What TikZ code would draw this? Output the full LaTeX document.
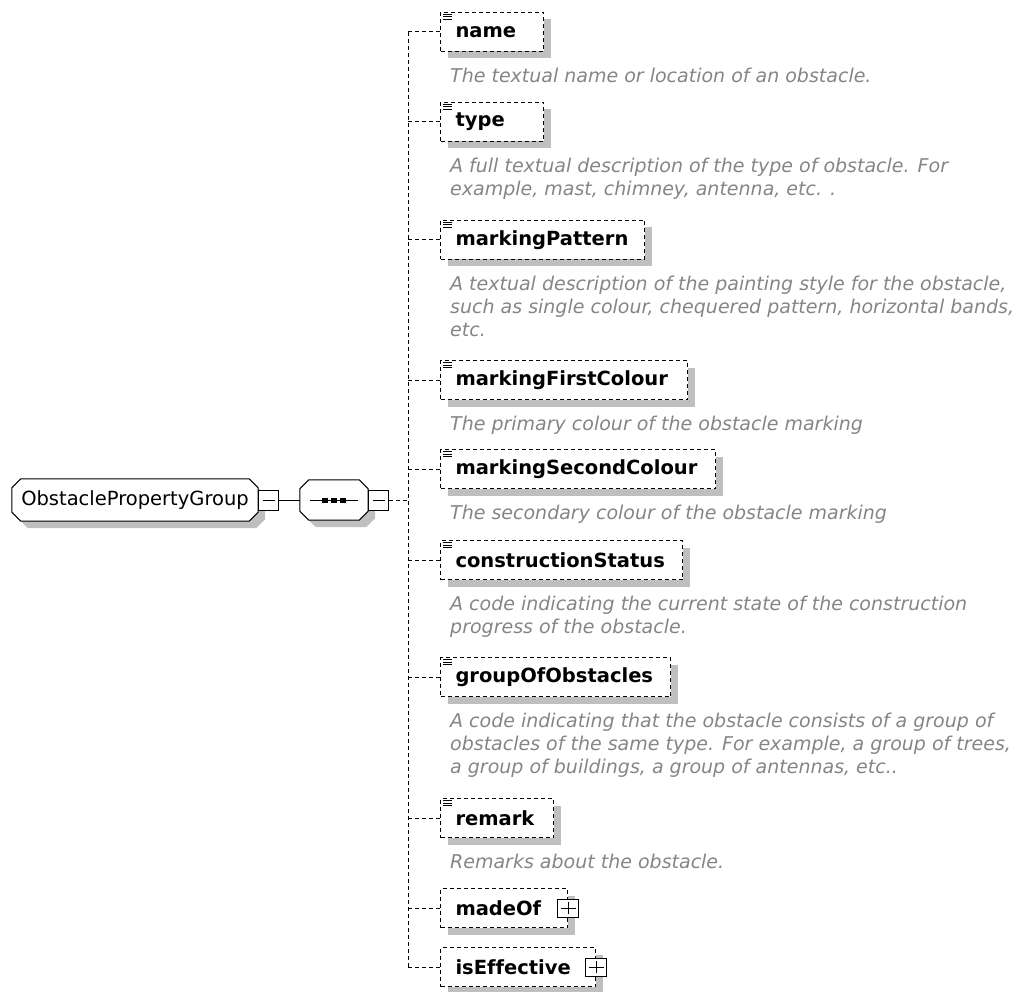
\documentclass[tikz,border=0pt]{standalone}
\usepackage{fontspec}
\setmainfont{DejaVu Sans}[Ligatures=NoCommon]
\usetikzlibrary{shadows}
\usetikzlibrary{backgrounds}
\definecolor{shadowgray}{rgb}{0.75, 0.75, 0.75}
\definecolor{docgray}{rgb}{0.52, 0.52, 0.52}

\tikzset{
	conn/.style={line width=1pt, dash pattern=on 4pt off 3pt},
	boxshadow/.style={drop shadow={shadow xshift=7pt, shadow yshift=-7pt, opacity=1, fill=shadowgray}},
	elem/.style={draw, line width=1pt, dash pattern=on 4pt off 3pt, fill=white, anchor=west,
		minimum height=39pt, inner xsep=15pt, inner ysep=0pt, align=left,
		font=\bfseries\fontsize{19.5}{22}\selectfont, boxshadow},
	doc/.style={anchor=north west, inner sep=0pt, align=left, text=docgray,
		font=\itshape\fontsize{19}{23}\selectfont},
	octa/.style={inner sep=0pt},
	octaline/.style={line width=1pt, fill=white,
		preaction={fill=shadowgray, transform canvas={xshift=7pt, yshift=-7pt}}},
	togglebox/.style={draw, line width=1pt, fill=white, inner sep=0pt, minimum width=20pt, minimum height=20pt},
	minusbox/.style={togglebox, path picture={
		\draw[line width=1pt] ([xshift=4pt]path picture bounding box.west) -- ([xshift=-4pt]path picture bounding box.east);}},
	plusbox/.style={togglebox, minimum width=21pt, minimum height=18pt, path picture={
		\draw[line width=1pt] ([xshift=3pt]path picture bounding box.west) -- ([xshift=-3pt]path picture bounding box.east);
		\draw[line width=1pt] ([yshift=-3pt]path picture bounding box.north) -- ([yshift=3pt]path picture bounding box.south);}}
}

\begin{document}
\begin{tikzpicture}[x=1pt, y=-1pt]
	\useasboundingbox (0,0) rectangle (1022,992);

	% group and sequence
	\node[octa, minimum width=246pt, minimum height=42pt, font=\fontsize{19.5}{22}\selectfont] (group) at (135,500) {ObstaclePropertyGroup};
	\node[minusbox, anchor=west] (gmin) at (group.east) {};
	\node[octa, minimum width=68pt, minimum height=40pt] (seq) at (334,500) {};
	\node[minusbox, anchor=west] (smin) at (seq.east) {};
	\begin{scope}[on background layer]
		\foreach \o in {group,seq}
			\draw[octaline] ([xshift=9pt]\o.north west) -- ([xshift=-9pt]\o.north east)
				-- ([yshift=-9pt]\o.north east) -- ([yshift=9pt]\o.south east)
				-- ([xshift=-9pt]\o.south east) -- ([xshift=9pt]\o.south west)
				-- ([yshift=9pt]\o.south west) -- ([yshift=-9pt]\o.north west) -- cycle;
	\end{scope}
	\draw[line width=1pt] ([xshift=-24pt]seq.center) -- ([xshift=24pt]seq.center);
	\foreach \dx in {-9,0,9}
		\fill[shift={(seq.center)}] (\dx-3,-2.5) rectangle (\dx+3,2.5);
	\draw[line width=1pt] (gmin.east) -- (seq.west);

	\coordinate (trunk) at (408,500);

	% elements
	\node[elem, text width=73pt] (name) at (440,32) {name};
	\node[doc] (name-doc) at (450,68) {The textual name or location of an obstacle.};

	\node[elem, text width=73pt] (type) at (440,122) {type};
	\node[doc] (type-doc) at (450,158) {A full textual description of the type of obstacle. For\\example, mast, chimney, antenna, etc. .};

	\node[elem, text width=174pt] (markingPattern) at (440,240) {markingPattern};
	\node[doc] (markingPattern-doc) at (450,276) {A textual description of the painting style for the obstacle,\\such as single colour, chequered pattern, horizontal bands,\\etc.};

	\node[elem, text width=217pt] (markingFirstColour) at (440,380) {markingFirstColour};
	\node[doc] (markingFirstColour-doc) at (450,416) {The primary colour of the obstacle marking};

	\node[elem, text width=245pt] (markingSecondColour) at (440,469) {markingSecondColour};
	\node[doc] (markingSecondColour-doc) at (450,505) {The secondary colour of the obstacle marking};

	\node[elem, text width=212pt] (constructionStatus) at (440,560) {constructionStatus};
	\node[doc] (constructionStatus-doc) at (450,596) {A code indicating the current state of the construction\\progress of the obstacle.};

	\node[elem, text width=200pt] (groupOfObstacles) at (440,677) {groupOfObstacles};
	\node[doc] (groupOfObstacles-doc) at (450,713) {A code indicating that the obstacle consists of a group of\\obstacles of the same type. For example, a group of trees,\\a group of buildings, a group of antennas, etc..};

	\node[elem, text width=83pt] (remark) at (440,818) {remark};
	\node[doc] (remark-doc) at (450,854) {Remarks about the obstacle.};

	\node[elem, text width=97pt] (madeOf) at (440,908) {madeOf};
	\node[plusbox] (madeOf-plus) at (madeOf.east) {};

	\node[elem, text width=125pt] (isEffective) at (440,967) {isEffective};
	\node[plusbox] (isEffective-plus) at (isEffective.east) {};

	% element icons
	\foreach \e in {name,type,markingPattern,markingFirstColour,markingSecondColour,constructionStatus,groupOfObstacles,remark}
		\foreach \dy in {2.5,5,7.5}
			\draw[line width=1pt] ([shift={(3,\dy)}]\e.north west) -- ++(9,0);

	% connectors
	\draw[conn] (smin.east) -- (trunk);
	\draw[conn] (trunk |- name.west) -- (trunk |- isEffective.west);
	\foreach \e in {name,type,markingPattern,markingFirstColour,markingSecondColour,constructionStatus,groupOfObstacles,remark,madeOf,isEffective}
		\draw[conn] (trunk |- \e.west) -- (\e.west);
\end{tikzpicture}
\end{document}
